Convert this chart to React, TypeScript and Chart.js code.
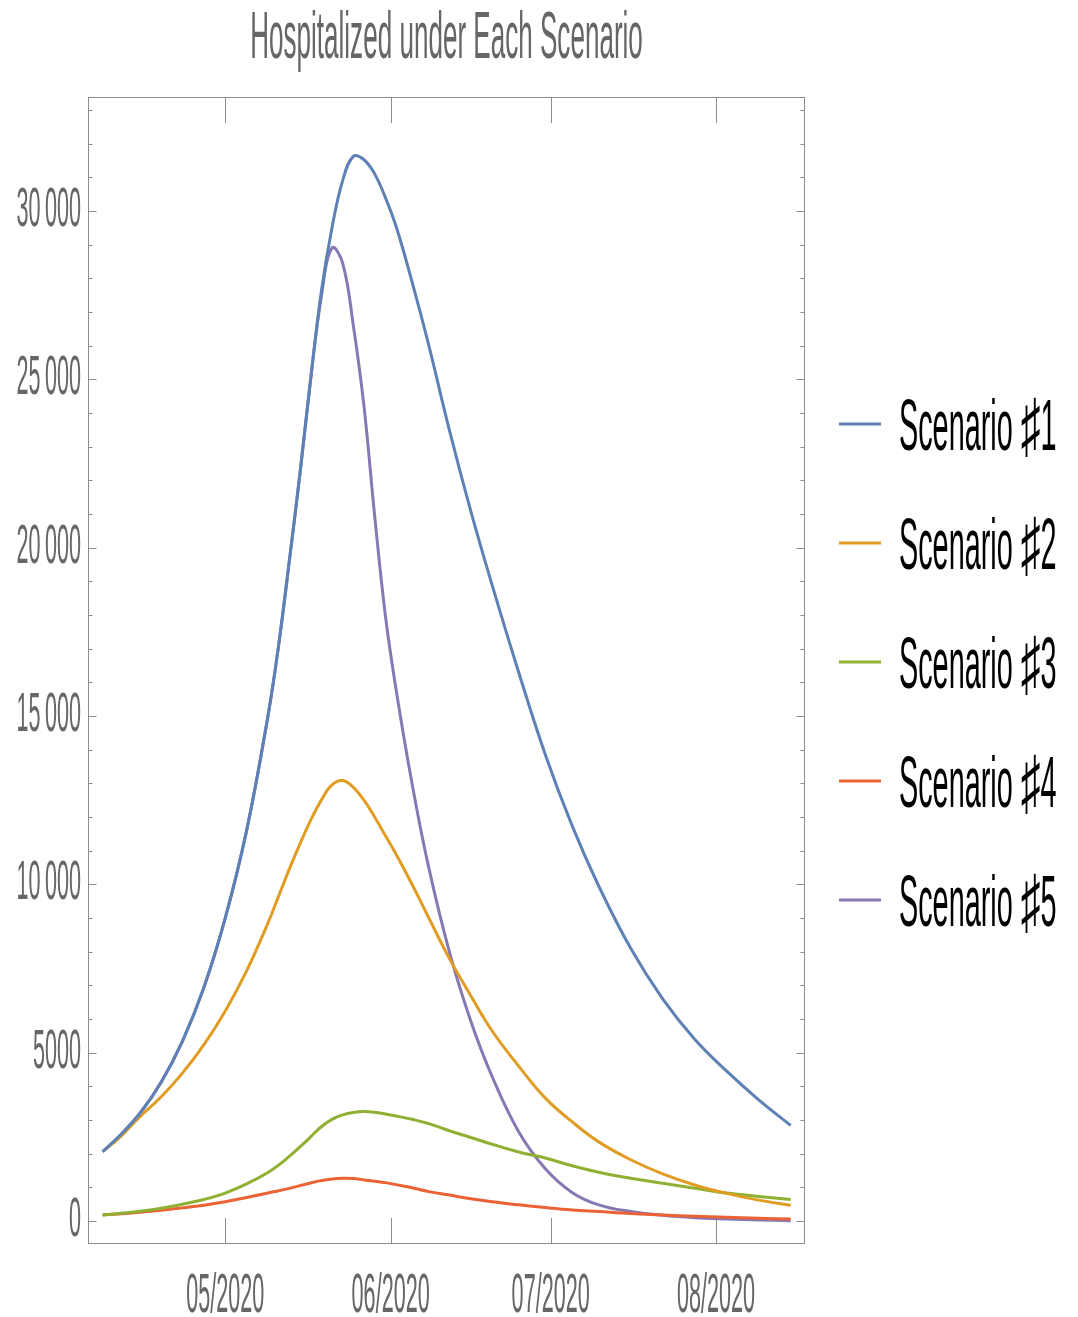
import React, { useEffect, useRef } from "react";
import { Chart, registerables } from "chart.js";

Chart.register(...registerables);

// Days relative to 1 May 2020
const days = [-23, -20, -16, -12, -8, -4, 0, 4, 8, 10, 12, 14, 16, 18, 20, 22, 24, 26, 28, 30, 32, 35, 38, 42, 46, 50, 55, 60, 65, 70, 76, 82, 88, 94, 100, 106];

const scenario1 = [2060, 2500, 3200, 4130, 5350, 6940, 9000, 11600, 15000, 17100, 19600, 22200, 25000, 27600, 29500, 30900, 31620, 31520, 31100, 30400, 29550, 27900, 26100, 23500, 21100, 18900, 16300, 13850, 11750, 9950, 8100, 6600, 5400, 4450, 3600, 2840];
const scenario2 = [2060, 2450, 3100, 3690, 4400, 5240, 6240, 7430, 8850, 9650, 10450, 11200, 11900, 12500, 12950, 13080, 12880, 12500, 12000, 11450, 10900, 10000, 9050, 7800, 6700, 5650, 4600, 3650, 2950, 2350, 1820, 1400, 1070, 820, 620, 470];
const scenario3 = [180, 220, 290, 380, 500, 640, 830, 1100, 1440, 1660, 1920, 2200, 2500, 2800, 3020, 3150, 3220, 3250, 3230, 3180, 3120, 3020, 2900, 2680, 2480, 2280, 2050, 1870, 1640, 1450, 1270, 1120, 970, 830, 730, 640];
const scenario4 = [180, 210, 260, 320, 390, 470, 570, 700, 830, 900, 970, 1050, 1130, 1200, 1250, 1270, 1260, 1220, 1180, 1140, 1080, 990, 880, 770, 660, 570, 480, 400, 330, 280, 220, 180, 140, 110, 80, 60];
const scenario5 = [2060, 2500, 3200, 4130, 5350, 6940, 9000, 11600, 15000, 17100, 19600, 22200, 25000, 27450, 28900, 28450, 26600, 24200, 20950, 18000, 15800, 13000, 10600, 8000, 5950, 4300, 2650, 1550, 850, 480, 280, 170, 100, 60, 30, 10];

const seriesPrefix = "Scenario ";
const seriesSharp = "\u266F";
const seriesNumbers = ["1", "2", "3", "4", "5"];
const seriesColors = ["#5E81B5", "#E19C24", "#8FB032", "#EB6235", "#8778B3"];

const xTickDays = [0, 31, 61, 92];
const xTickLabels = ["05/2020", "06/2020", "07/2020", "08/2020"];
const yTickValues = [0, 5000, 10000, 15000, 20000, 25000, 30000];
const yTickLabels = ["0", "5000", "10\u2009000", "15\u2009000", "20\u2009000", "25\u2009000", "30\u2009000"];
const yMinorStep = 1000;

const titleText = "Hospitalized under Each Scenario";

const FRAME = "#8c8c8c";
const LABEL = "#666666";
const FONT = "'Liberation Sans', 'DejaVu Sans', sans-serif";

function squeezeText(ctx: CanvasRenderingContext2D, text: string, x: number, y: number, align: CanvasTextAlign, sx: number) {
  ctx.save();
  ctx.translate(x, y);
  ctx.scale(sx, 1);
  ctx.textAlign = align;
  ctx.textBaseline = "alphabetic";
  ctx.fillText(text, 0, 0);
  ctx.restore();
  return ctx.measureText(text).width * sx;
}

const framePlugin = {
  id: "mmaFrame",
  beforeDatasetsDraw(chart: any) {
    const { ctx, chartArea: a, scales } = chart;
    const x = scales.x;
    const y = scales.y;
    ctx.save();
    ctx.strokeStyle = FRAME;
    ctx.lineWidth = 1;
    ctx.strokeRect(a.left + 0.5, a.top + 0.5, a.right - a.left - 1, a.bottom - a.top - 1);
    ctx.beginPath();
    for (let v = Math.ceil(y.min / yMinorStep) * yMinorStep; v <= y.max; v += yMinorStep) {
      const py = Math.round(y.getPixelForValue(v)) + 0.5;
      const major = yTickValues.indexOf(v) >= 0;
      const len = major ? 8.5 : 4.5;
      ctx.moveTo(a.left, py);
      ctx.lineTo(a.left + len, py);
      ctx.moveTo(a.right, py);
      ctx.lineTo(a.right - len, py);
    }
    for (const d of xTickDays) {
      const px = Math.round(x.getPixelForValue(d)) + 0.5;
      ctx.moveTo(px, a.bottom);
      ctx.lineTo(px, a.bottom - 26);
      ctx.moveTo(px, a.top);
      ctx.lineTo(px, a.top + 26);
    }
    ctx.stroke();
    ctx.restore();
  },
  afterDraw(chart: any) {
    const { ctx, chartArea: a, scales } = chart;
    const x = scales.x;
    const y = scales.y;
    ctx.save();
    ctx.fillStyle = LABEL;
    ctx.font = `66px ${FONT}`;
    squeezeText(ctx, titleText, (a.left + a.right) / 2, 58, "center", 0.395);
    ctx.font = `56px ${FONT}`;
    yTickValues.forEach((v, i) => {
      const py = y.getPixelForValue(v);
      squeezeText(ctx, yTickLabels[i], a.left - 7, py + 15, "right", 0.386);
    });
    xTickDays.forEach((d, i) => {
      const px = x.getPixelForValue(d);
      squeezeText(ctx, xTickLabels[i], px, a.bottom + 68, "center", 0.386);
    });
    chart.data.datasets.forEach((ds: any, i: number) => {
      const ly = 424 + i * 119;
      ctx.strokeStyle = ds.borderColor;
      ctx.lineWidth = 3;
      ctx.beginPath();
      ctx.moveTo(839, ly);
      ctx.lineTo(881, ly);
      ctx.stroke();
      ctx.fillStyle = "#000000";
      ctx.font = `72px ${FONT}`;
      let tx = 899;
      tx += squeezeText(ctx, seriesPrefix, tx, ly + 26, "left", 0.4);
      tx += squeezeText(ctx, seriesSharp, tx, ly + 26, "left", 0.55);
      squeezeText(ctx, seriesNumbers[i], tx, ly + 26, "left", 0.4);
    });
    ctx.restore();
  },
};

export default function App() {
  const canvasRef = useRef<HTMLCanvasElement | null>(null);

  useEffect(() => {
    const canvas = canvasRef.current;
    if (!canvas) return;
    const seriesValues = [scenario1, scenario2, scenario3, scenario4, scenario5];
    const chart = new Chart(canvas, {
      type: "line",
      data: {
        datasets: seriesValues.map((vals, i) => ({
          label: seriesPrefix + seriesSharp + seriesNumbers[i],
          data: days.map((d, j) => ({ x: d, y: vals[j] })),
          borderColor: seriesColors[i],
          backgroundColor: seriesColors[i],
          borderWidth: 3,
          pointRadius: 0,
          tension: 0.4,
          fill: false,
        })),
      },
      options: {
        responsive: false,
        animation: false,
        devicePixelRatio: 1,
        layout: { padding: { left: 88, top: 97, right: 273, bottom: 73 } },
        plugins: {
          legend: { display: false },
          title: { display: false },
          tooltip: { enabled: false },
        },
        scales: {
          x: {
            type: "linear",
            display: false,
            min: -25.74,
            max: 108.68,
            afterBuildTicks: (s: any) => {
              s.ticks = xTickDays.map((v) => ({ value: v }));
            },
          },
          y: {
            type: "linear",
            display: false,
            min: -683,
            max: 33383,
            afterBuildTicks: (s: any) => {
              s.ticks = yTickValues.map((v) => ({ value: v }));
            },
          },
        },
      },
      plugins: [framePlugin],
    });
    return () => chart.destroy();
  }, []);

  return (
    <div style={{ position: "fixed", left: 0, top: 0, width: 1078, height: 1317, background: "#ffffff" }}>
      <canvas ref={canvasRef} width={1078} height={1317} style={{ width: 1078, height: 1317, display: "block" }} />
    </div>
  );
}
